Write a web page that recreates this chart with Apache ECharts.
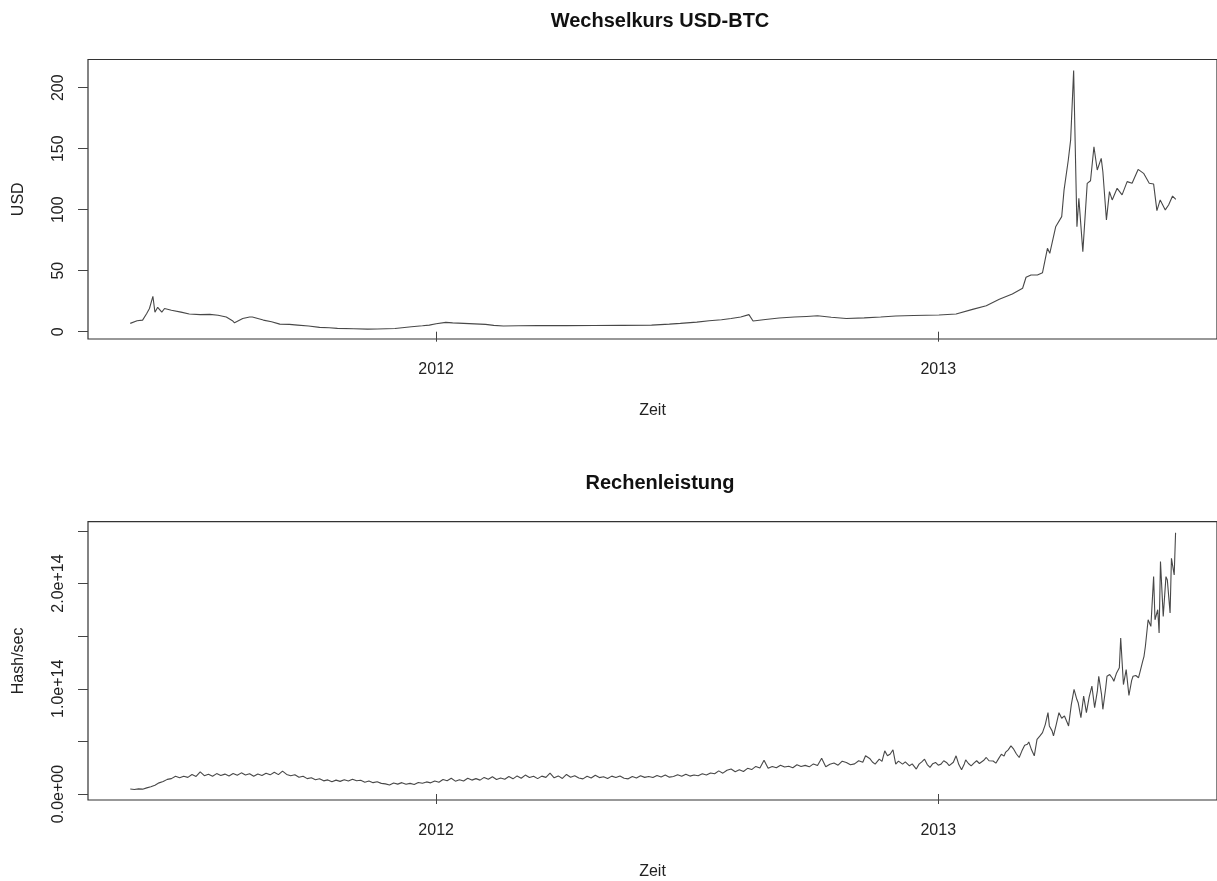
<!DOCTYPE html>
<html><head><meta charset="utf-8">
<script src="https://cdn.jsdelivr.net/npm/echarts@6/dist/echarts.min.js"></script>
<style>html,body{margin:0;padding:0;background:#fff;overflow:hidden}#c{width:1217px;height:881px}</style>
</head><body><div id="c"></div>
<script>
// ---- data (x = days since 2012-01-01) ----
const EPOCH = '2012-01-01';
const titles = ['Wechselkurs USD-BTC', 'Rechenleistung'];
const xName = 'Zeit';
const yNames = ['USD', 'Hash/sec'];
const yearTicks = ['2012-01-01', '2013-01-01'];
const yearLabels = ['2012', '2013'];
const usdTicks = [0, 50, 100, 150, 200];
const hashTicks = [0, 50, 100, 150, 200, 250];          // units of 1e12 hash/s
const hashLabelTicks = [0, 100, 200];
const hashLabels = ['0.0e+00', '1.0e+14', '2.0e+14'];

const priceDay = [-223,-218,-214,-211,-209,-206.5,-205,-203,-200,-198,-193,-186,-180,-172,-165,-159,-153,-148.5,-147,-141,-136,-134,-126,-120,-114,-107,-101,-93,-85,-78,-72,-60,-50,-43,-30,-18,-10,-5,0,7,12,20,28,36,42,49,60,74,95,115,135,157,170,178,190,199,208,215,222,228,231,240,250,261,270,278,288,299,312,324,335,348,
  366.5,379,391,401,410.5,420,427.5,430,433.6,438.3,442,445.6,447.3,451.6,456,457.7,460.8,462.5,464.7,467.1,468.5,471.4,474.6,477,479.5,481.9,484.8,486,488.6,490.8,492.8,496.4,500,503.7,507.3,511.7,515.7,519.8,523,525.4,527.8,531.5,533.9,536.8,539.2];
const priceUSD = [6.8,8.9,9.5,14.9,19,29,16,20,16,19,17.6,16,14.5,14,14.2,13.5,12,9,7.3,10.8,12,12,9.5,8.2,6.2,6.0,5.4,4.6,3.5,3.2,2.7,2.4,2.1,2.2,2.6,4,4.8,5.4,6.5,7.6,7.2,6.8,6.4,6,5.2,4.6,4.9,5.1,5.0,5.1,5.2,5.4,6.2,6.8,7.8,8.9,9.8,10.8,12,14,8.7,10,11.2,12,12.5,13,11.8,10.8,11.3,12,12.9,13.3,
  13.7,14.5,18.3,21.3,26.5,30.9,35.6,44.6,46.5,46.5,48.4,68.3,64.2,86,94.3,116,140.7,157,214,86,109.3,65.6,121.6,123.7,151.6,132.5,142.1,131.1,91.6,114.8,108,117.5,112.1,123,121.6,133,129.8,121.6,121,99.2,108,99.8,103.8,111.2,108.5];

const hashDay = [-223,-220,-217,-214,-211,-208,-205,-202,-199,-196,-193,-190,-187,-184,-181,-178,-175,-172,-169,-166,-163,-160,-157,-154,-151,-148,-145,-142,-139,-136,-133,-130,-127,-124,-121,-118,-115,-112,-109,-106,-103,-100,-97,-94,-91,-88,-85,-82,-79,-76,-73,-70,-67,-64,-61,-58,-55,-52,-49,-46,-43,-40,-37,-34,-31,-28,-25,-22,-19,-16,-13,-10,-7,-4,-1,
  2,5,8,11,14,17,20,23,26,29,32,35,38,41,44,47,50,53,56,59,62,65,68,71,74,77,80,83,86,89,92,95,98,101,104,107,110,113,116,119,122,125,128,131,134,137,140,143,146,149,152,155,158,161,164,167,170,173,176,179,182,185,188,191,194,197,200,203,206,209,212,215,218,221,224,227,230,233,236,239,242,245,248,251,254,257,260,263,266,269,272,275,278,281,284,287,290,293,296,
  299,302,305,308,311,313,316,318,320,323,325,327,329,331,333,335,337,340,342,345,347,350,352,354,356,358,360,362,364,366,368,370,372,374,375,377,379,381,383,385,386,388,390,392,394,396,397,399,401,403,404,406,408,410,412,414,415,417,419,421,423,425,427,429,431,432,434,436,438,440,442,444,446,447,449,450,452,454,456,458,460,461,463,465,467,468,470,472,474,476,478,480,482,483,485,486,488,489,491,493,494,496,498,499,501,503,505,507,508,510,512,513,515,516,517,519,521,523,524,526,527,528,530,532,533,535,536,538,539];
const hashRate = [4.7,4.3,4.9,4.6,5.8,6.9,8.4,10.6,11.8,13.9,14.6,16.8,15.4,16.9,15.8,18.6,16.7,21.0,17.4,18.8,16.9,19.4,17.6,18.9,17.2,19.5,17.8,20.1,18.0,19.2,16.8,19.0,17.6,19.8,18.2,20.6,18.4,21.8,18.6,17.4,18.3,15.9,16.8,14.6,15.4,13.6,14.5,12.5,13.4,11.7,13.2,12.0,13.6,12.3,14.1,12.6,13.0,11.2,12.4,10.8,11.6,10.1,9.6,8.6,10.4,9.4,10.8,9.2,10.1,9.0,11.0,10.2,11.5,10.6,12.4,
  11.2,13.8,12.6,14.9,12.2,13.6,12.4,15.0,13.2,14.6,13.2,15.8,14.0,16.4,13.8,15.2,14.0,16.6,14.4,17.2,15.0,18.0,15.6,16.8,14.6,17.0,15.8,19.8,15.4,17.2,14.8,18.6,16.0,17.4,15.2,14.4,16.8,15.2,17.8,15.6,16.4,14.8,17.0,15.6,17.2,15.0,14.4,16.6,15.2,17.4,15.8,16.6,15.6,17.6,16.2,18.0,16.0,16.6,18.2,16.8,18.8,17.0,18.0,17.4,19.2,18.0,20.0,19.2,22.0,19.8,22.6,23.8,21.2,23.0,21.4,24.4,23.2,26.2,24.8,32.0,24.4,26.2,25.0,27.4,25.6,26.4,25.0,27.8,26.2,27.2,25.8,28.6,27.0,34.0,26.0,28.2,29.4,27.4,31.2,
  30.0,27.8,28.6,31.6,30.2,36.3,33.8,30.4,28.4,33.1,31.0,41.0,36.3,38.0,42.0,28.4,31.2,28.4,30.6,26.8,28.6,23.7,28.4,30.6,33.1,28.0,25.3,28.8,30.0,27.4,28.4,31.6,30.0,27.0,25.3,30.2,36.3,28.0,23.0,28.6,32.4,29.0,26.8,29.4,31.6,29.0,28.4,31.8,34.7,31.6,30.0,31.4,29.3,33.6,37.8,36.0,39.5,42.0,45.7,42.6,38.0,34.7,41.0,46.4,47.2,49.5,42.0,36.3,52.0,55.0,58.3,66.0,77.3,64.7,60.0,55.2,66.0,77.3,72.0,74.2,68.0,64.7,85.0,99.4,90.0,86.8,72.6,93.1,77.3,92.0,102.6,82.1,98.0,111.9,95.0,80.5,100.0,111.9,113.5,110.0,107.2,115.1,120.0,148.2,104.0,118.2,93.6,108.0,111.9,112.6,110.5,115.7,126.0,130.9,140.4,165.6,159.3,206.6,165.6,175.1,153.0,220.9,168.8,206.6,203.4,172.0,224.0,208.2,248.3];

// ---- build ----
const DAY = 864e5;
const T0 = Date.parse(EPOCH);
const toT = d => T0 + d * DAY;
const yearT = yearTicks.map(s => Date.parse(s));
const FONT = 'Liberation Sans, Arial, Helvetica, sans-serif';
const INK = '#222';
const LINE = '#484848';

function xAxisFor(gi) {
  return {
    type: 'value', gridIndex: gi,
    min: toT(-253.8), max: toT(569.2),
    splitLine: { show: false },
    axisLine: { show: false },
    axisTick: { show: true, length: 10, customValues: yearT, lineStyle: { color: '#444', width: 1 } },
    axisLabel: {
      customValues: yearT, margin: 23, color: INK, fontFamily: FONT, fontSize: 16,
      formatter: v => { const i = yearT.indexOf(v); return i >= 0 ? yearLabels[i] : ''; }
    },
    name: xName, nameLocation: 'middle', nameGap: 64,
    nameTextStyle: { color: INK, fontFamily: FONT, fontSize: 16 }
  };
}

const option = {
  animation: false,
  backgroundColor: '#fff',
  title: [
    { text: titles[0], left: 655, textAlign: 'center', top: 6,
      textStyle: { fontFamily: FONT, fontSize: 20, fontWeight: 'bold', color: '#111' } },
    { text: titles[1], left: 655, textAlign: 'center', top: 468,
      textStyle: { fontFamily: FONT, fontSize: 20, fontWeight: 'bold', color: '#111' } }
  ],
  grid: [
    { left: 88, top: 59.5, width: 1134, height: 279.5, show: true, borderColor: '#333', borderWidth: 1.2, backgroundColor: 'transparent' },
    { left: 88, top: 521.7, width: 1134, height: 279.3, show: true, borderColor: '#333', borderWidth: 1.2, backgroundColor: 'transparent' }
  ],
  xAxis: [xAxisFor(0), xAxisFor(1)],
  yAxis: [
    {
      type: 'value', gridIndex: 0, min: -6, max: 223.1,
      splitLine: { show: false }, axisLine: { show: false },
      axisTick: { show: true, length: 10, customValues: usdTicks, lineStyle: { color: '#444', width: 1 } },
      axisLabel: { customValues: usdTicks, rotate: 90, margin: 21, color: INK, fontFamily: FONT, fontSize: 16 },
      name: yNames[0], nameLocation: 'middle', nameRotate: 90, nameGap: 61,
      nameTextStyle: { color: INK, fontFamily: FONT, fontSize: 16 }
    },
    {
      type: 'value', gridIndex: 1, min: -5.7, max: 258.8,
      splitLine: { show: false }, axisLine: { show: false },
      axisTick: { show: true, length: 10, customValues: hashTicks, lineStyle: { color: '#444', width: 1 } },
      axisLabel: {
        customValues: hashLabelTicks, rotate: 90, margin: 21, color: INK, fontFamily: FONT, fontSize: 16,
        formatter: v => { const i = hashLabelTicks.indexOf(v); return i >= 0 ? hashLabels[i] : ''; }
      },
      name: yNames[1], nameLocation: 'middle', nameRotate: 90, nameGap: 61,
      nameTextStyle: { color: INK, fontFamily: FONT, fontSize: 16 }
    }
  ],
  series: [
    { type: 'line', xAxisIndex: 0, yAxisIndex: 0, showSymbol: false, symbol: 'none',
      lineStyle: { color: LINE, width: 1.1 },
      data: priceDay.map((d, i) => [toT(d), priceUSD[i]]) },
    { type: 'line', xAxisIndex: 1, yAxisIndex: 1, showSymbol: false, symbol: 'none',
      lineStyle: { color: LINE, width: 1.1 },
      data: hashDay.map((d, i) => [toT(d), hashRate[i]]) }
  ]
};
const chart = echarts.init(document.getElementById('c'), null, { renderer: 'canvas' });
chart.setOption(option);
</script>
</body></html>
